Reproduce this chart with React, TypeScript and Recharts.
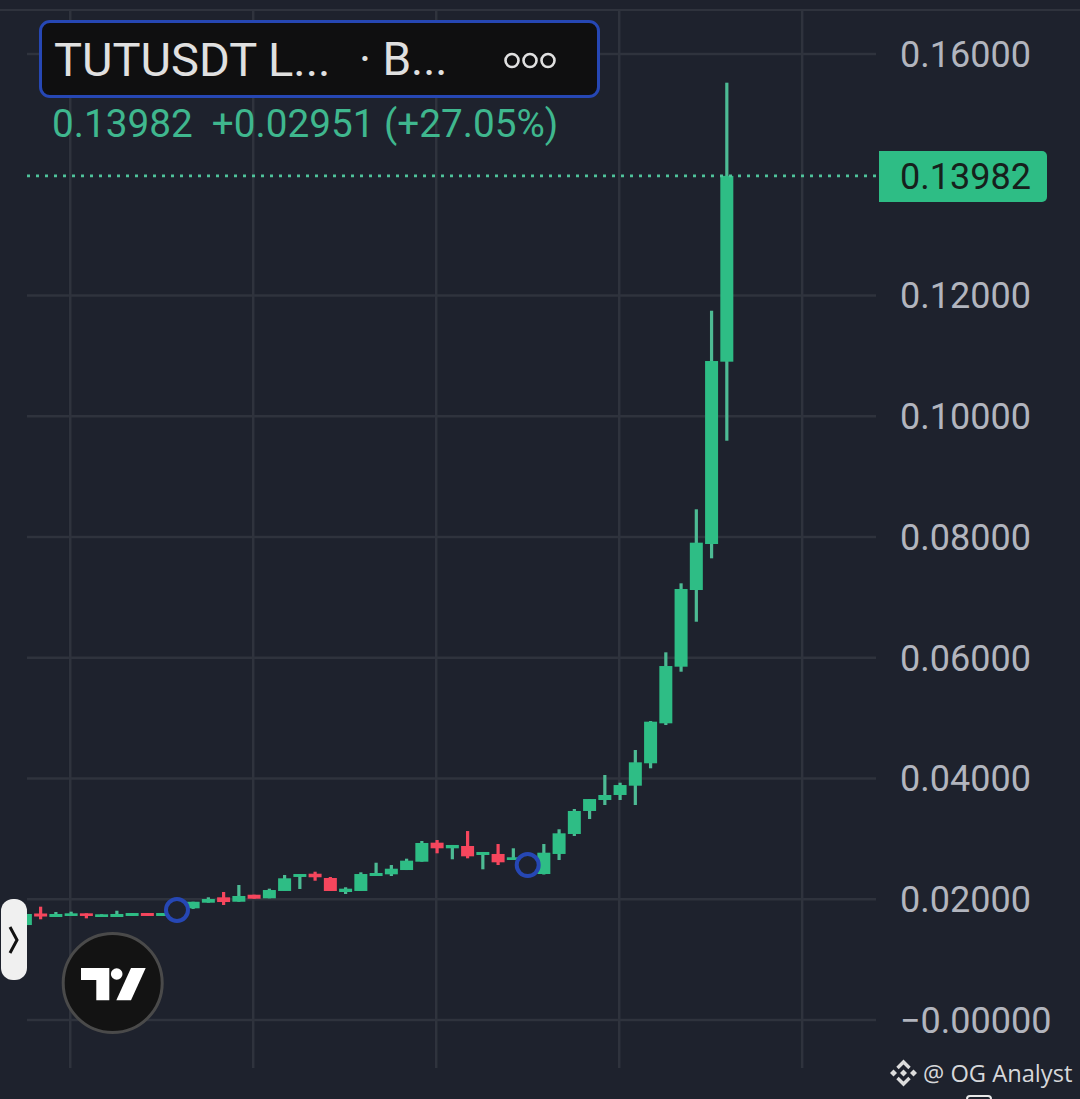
import React from "react";
import { ComposedChart, Bar, XAxis, YAxis, CartesianGrid, ReferenceLine, ReferenceDot } from "recharts";

const BG = "#1e222d";
const GRID = "#2f333d";
const UP = "#2ebd85";
const UP_WICK = "#4dbb94";
const DOWN = "#f6465d";
const BLUE = "#2647b4";
const LABEL = "#b2b5be";

const opens = [.01573,.01764,.01706,.01723,.01767,.01706,.01706,.01723,.01772,.01723,.0177,.0185,.01943,.02032,.01959,.02075,.02016,.02137,.02369,.02423,.02352,.0212,.02137,.02385,.02413,.02484,.02622,.02937,.02844,.02882,.02733,.0275,.0265,.0255,.02418,.0275,.03081,.03462,.03644,.03727,.03881,.04252,.04914,.05852,.07122,.07884,.10904];
const closes = [.01756,.01714,.01756,.01767,.01723,.01751,.01756,.01772,.01723,.01772,.0184,.01959,.02004,.01954,.02054,.02009,.02153,.02347,.02418,.02364,.02137,.02175,.02418,.02435,.02506,.02639,.02932,.02844,.02899,.02711,.02783,.02612,.02695,.0265,.02771,.03092,.03462,.0366,.03727,.03892,.04268,.04941,.05863,.07139,.07906,.10915,.13982];
const highs = [.01756,.01877,.01789,.01794,.01767,.01751,.0181,.01772,.01772,.01772,.0184,.01959,.02032,.0212,.02236,.02075,.02175,.02402,.02418,.02456,.02369,.02198,.02446,.02605,.02567,.02672,.02965,.02981,.02899,.0313,.02783,.02915,.02844,.0265,.02915,.03159,.03495,.0366,.04058,.0393,.04472,.04952,.0609,.07233,.08459,.11748,.15525];
const lows = [.01573,.01668,.01706,.01723,.01684,.01706,.01706,.01723,.01723,.01723,.0177,.0184,.01943,.01905,.01959,.02009,.02016,.02137,.0217,.02307,.02137,.02087,.02137,.02385,.02385,.02484,.02622,.02761,.02662,.02678,.02496,.02567,.0265,.0255,.0241,.0265,.03048,.03329,.03561,.03644,.03561,.04169,.04886,.05769,.06597,.07647,.09595];

const priceTicks = [0, 0.02, 0.04, 0.06, 0.08, 0.1, 0.12, 0.16];
const timeTicks = [3, 15, 27, 39, 51];
const lastPrice = 0.13982;
const marks = [
  { index: 10, price: 0.01822 },
  { index: 33, price: 0.02567 },
];

const rows = opens.map((open, i) => ({
  i,
  open,
  close: closes[i],
  high: highs[i],
  low: lows[i],
  range: [lows[i], highs[i]],
}));

const plotLeft = 27;
const plotWidth = 849;
const xMin = 0.164;
const xMax = 55.84;
const gridXs = timeTicks.map((t) => plotLeft + ((t - xMin) / (xMax - xMin)) * plotWidth);

function Candle(props: any) {
  const { x, y, width, height, payload } = props;
  const { open, close, high, low } = payload;
  const up = close >= open;
  const k = height / (high - low);
  const top = y + (high - Math.max(open, close)) * k;
  const bodyH = Math.abs(close - open) * k;
  const left = x + 1;
  return (
    <g>
      <rect x={left + width / 2 - 1.6} y={y} width={3.2} height={height} fill={up ? UP_WICK : DOWN} />
      <rect x={left} y={top} width={width} height={bodyH} fill={up ? UP : DOWN} />
    </g>
  );
}

const tickText = (v: number) => (v === 0 ? "\u22120.00000" : v.toFixed(5));

export default function App() {
  return (
    <div style={{ position: "absolute", left: 0, top: 0, width: 1080, height: 1099, background: BG, overflow: "hidden" }}>
      <ComposedChart
        width={1080}
        height={1099}
        data={rows}
        margin={{ top: 10, right: 0, bottom: 0, left: plotLeft }}
      >
        <CartesianGrid stroke={GRID} strokeWidth={2.5} verticalPoints={gridXs} horizontalValues={priceTicks} />
        <XAxis
          dataKey="i"
          type="number"
          domain={[xMin, xMax]}
          allowDataOverflow
          ticks={timeTicks}
          tick={false}
          tickLine={false}
          axisLine={false}
          height={31}
        />
        <YAxis
          orientation="right"
          width={204}
          domain={[-0.00795, 0.16729]}
          allowDataOverflow
          ticks={priceTicks}
          interval={0}
          tickFormatter={tickText}
          tickLine={false}
          axisLine={false}
          tickMargin={25}
          tick={{ fill: LABEL, fontSize: 36, fontFamily: "Roboto", dx: -7 }}
        />
        <ReferenceLine y={lastPrice} stroke="#4fc39b" strokeWidth={2.6} strokeDasharray="3 6" />
        <Bar dataKey="range" barSize={13} shape={<Candle />} isAnimationActive={false} />
        {marks.map((m) => (
          <ReferenceDot key={m.index} x={m.index} y={m.price} r={11} fill={BG} stroke={BLUE} strokeWidth={4} ifOverflow="visible" />
        ))}
      </ComposedChart>

      {/* top rule */}
      <div style={{ position: "absolute", left: 0, top: 9, width: 1080, height: 2, background: GRID }} />

      {/* symbol header */}
      <div
        style={{
          position: "absolute", left: 39, top: 20, width: 561, height: 78, boxSizing: "border-box",
          background: "#0f0f10", border: `3px solid ${BLUE}`, borderRadius: 11,
          fontFamily: "Roboto", color: "#e0e0e0", fontSize: 47, fontWeight: 400, lineHeight: "73px",
          whiteSpace: "pre",
        }}
      >
        <span style={{ position: "absolute", left: 12, top: 0 }}>TUTUSDT L...</span>
        <span style={{ position: "absolute", left: 317, top: 0, fontSize: 46 }}>· B...</span>
        <svg style={{ position: "absolute", left: 460, top: 25 }} width={64} height={24}>
          {[10, 28, 46].map((cx) => (
            <circle key={cx} cx={cx} cy={12.5} r={6.5} fill="none" stroke="#e0e0e0" strokeWidth={2.6} />
          ))}
        </svg>
      </div>
      <div style={{ position: "absolute", left: 52, top: 101, fontFamily: "Roboto", fontSize: 38.7, lineHeight: "46px", color: "#3fb78e", whiteSpace: "pre" }}>
        {"0.13982  +0.02951 (+27.05%)"}
      </div>

      {/* last price tag */}
      <div
        style={{
          position: "absolute", left: 879, top: 151, width: 168, height: 51, background: UP, borderRadius: "0 5px 5px 0",
          fontFamily: "Roboto", fontSize: 36, lineHeight: "53px", color: "#16201c", paddingLeft: 21, boxSizing: "border-box",
        }}
      >
        0.13982
      </div>

      {/* side button */}
      <svg style={{ position: "absolute", left: 0, top: 895 }} width={32} height={90}>
        <rect x={1} y={4} width={26} height={81} rx={12} fill="#f0f0f0" />
        <path d="M10 32 L17 45 L10 58" fill="none" stroke="#111" strokeWidth={3} />
      </svg>

      {/* logo */}
      <svg style={{ position: "absolute", left: 58, top: 928 }} width={110} height={110}>
        <circle cx={54.7} cy={55} r={49.5} fill="#131313" stroke="#4a4a4a" strokeWidth={3} />
        <path d="M23 40 H51.3 V72.3 H38.3 V52 H23 Z" fill="#fff" />
        <circle cx={58.7} cy={46} r={5.8} fill="#fff" />
        <path d="M73 40 H87.7 L73 72.3 H58.3 Z" fill="#fff" />
      </svg>

      {/* watermark */}
      <svg style={{ position: "absolute", left: 888, top: 1058 }} width={32} height={32}>
        <g fill="none" stroke="#dcdcdc" strokeWidth={3.4}>
          <path d="M9.5 10 L15.5 4 L21.5 10" />
          <path d="M9.5 20 L15.5 26 L21.5 20" />
        </g>
        <g fill="#dcdcdc">
          <path d="M2 15 L5.5 11.5 L9 15 L5.5 18.5 Z" />
          <path d="M22 15 L25.5 11.5 L29 15 L25.5 18.5 Z" />
          <path d="M15.5 11.5 L19 15 L15.5 18.5 L12 15 Z" />
        </g>
      </svg>
      <div style={{ position: "absolute", left: 923, top: 1056, fontFamily: "Open Sans", fontSize: 23.7, lineHeight: "34px", color: "#d6d7da", whiteSpace: "pre" }}>
        @ OG Analyst
      </div>
      <div style={{ position: "absolute", left: 966, top: 1095, width: 26, height: 8, boxSizing: "border-box", border: "2px solid #e8e8e8", borderRadius: 4 }} />
    </div>
  );
}
